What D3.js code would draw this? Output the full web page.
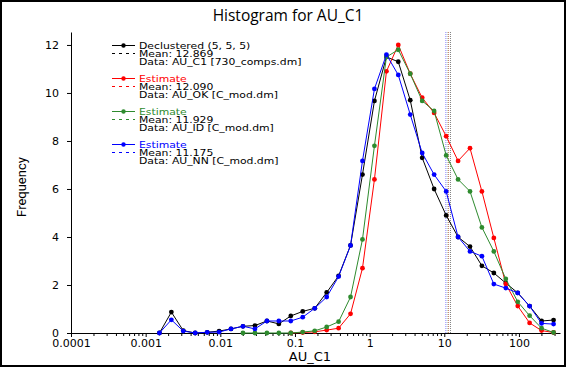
<!DOCTYPE html>
<html>
<head>
<meta charset="utf-8">
<script src="https://cdn.jsdelivr.net/npm/d3@7"></script>
<style>
  body { margin: 0; background: #fff; }
  svg { display: block; }
</style>
</head>
<body>
<script>
const width = 566;
const height = 367;

// bin centres (AU_C1, log bins)
const bins = [0.00153, 0.00221, 0.00319, 0.00461, 0.00667, 0.00964, 0.0139, 0.0201, 0.0291, 0.0421,
  0.0608, 0.0879, 0.127, 0.184, 0.266, 0.384, 0.555, 0.802, 1.16, 1.68,
  2.42, 3.50, 5.06, 7.31, 10.6, 15.3, 22.1, 31.9, 46.1, 66.7,
  96.4, 139, 201, 291];

// frequencies per bin (null = no point)
const declustered = [0, 0.87, 0.1, 0, 0.03, 0.08, 0.17, 0.28, 0.31, 0.5,
  0.38, 0.71, 0.9, 1.03, 1.69, 2.38, 3.65, 6.6, 9.67, 11.5,
  11.3, 9.7, 7.3, 6.0, 4.9, 4.0, 3.6, 2.8, 2.5, 2.08,
  1.67, 1.12, 0.5, 0.54];
const auOK = [null, null, null, null, null, null, null, null, null, null,
  null, 0, 0.02, 0.05, 0.12, 0.2, 0.8, 2.7, 6.4, 10.9,
  12.0, 10.8, 9.8, 9.17, 8.2, 7.17, 7.7, 5.9, 3.96, 2.04,
  1.12, 0.42, 0.1, 0.02];
const auID = [null, null, null, null, null, null, null, 0, 0, 0,
  0, 0, 0.04, 0.09, 0.25, 0.47, 1.5, 3.9, 7.8, 11.5,
  11.8, 10.8, 9.67, 9.25, 7.4, 6.4, 5.9, 4.4, 3.4, 2.25,
  1.3, 0.72, 0.2, 0.02];
const auNN = [0, 0.55, 0.08, 0, 0.03, 0.04, 0.17, 0.28, 0.17, 0.5,
  0.5, 0.5, 0.66, 1.03, 1.5, 2.35, 3.65, 7.17, 10.17, 11.6,
  10.75, 9.1, 7.5, 6.6, 5.9, 4.0, 3.4, 3.2, 2.04, 1.87,
  1.67, 1.12, 0.4, 0.37];

// means
const means = [12.869, 12.090, 11.929, 11.175];

// legend texts
const legendNames = ['Declustered (5, 5, 5)', 'Estimate', 'Estimate', 'Estimate'];
const legendData = ['AU_C1 [730_comps.dm]', 'AU_OK [C_mod.dm]', 'AU_ID [C_mod.dm]', 'AU_NN [C_mod.dm]'];
const colors = ['#000000', '#ff0000', '#2e8b2e', '#0000ff'];

// ticks
const xTicks = [0.0001, 0.001, 0.01, 0.1, 1, 10, 100];
const yTicks = [0, 2, 4, 6, 8, 10, 12];

const series = [declustered, auOK, auID, auNN];

var svg = d3.select('body')
  .append('svg')
  .attr('width', width)
  .attr('height', height)
  .style('font-family', 'DejaVu Sans, Verdana, sans-serif');

svg.append('rect')
  .attr('x', 1).attr('y', 1)
  .attr('width', width - 2).attr('height', height - 2)
  .attr('fill', '#fff')
  .attr('stroke', '#000')
  .attr('stroke-width', 2);

// scales
var x = d3.scaleLog()
  .domain([0.0001, Math.pow(10, 2.55)])
  .range([71, 560]);
var y = d3.scaleLinear()
  .domain([0, 12.54])
  .range([333, 32]);

// title
svg.append('text')
  .attr('x', 288)
  .attr('y', 21)
  .style('font-size', '15.5px')
  .style('font-family', 'Open Sans, sans-serif')
  .style('text-anchor', 'middle')
  .text('Histogram for AU_C1');

// mean lines
svg.append('g')
  .selectAll('line')
  .data(means)
  .join('line')
  .attr('x1', d => x(d) - 2).attr('x2', d => x(d) - 2)
  .attr('y1', y.range()[1]).attr('y2', y(0))
  .attr('stroke', (d, i) => colors[i])
  .attr('stroke-opacity', 0.5)
  .attr('stroke-dasharray', '1,1');

// x axis, major + minor ticks
var minor = [];
for (var e = -4; e <= 2; e++) {
  for (var m = 2; m <= 9; m++) {
    var v = m * Math.pow(10, e);
    if (v <= x.domain()[1]) minor.push(v);
  }
}
svg.append('g')
  .attr('transform', 'translate(0,' + y(0) + ')')
  .call(d3.axisBottom(x).tickValues(minor).tickSize(3).tickFormat(''))
  .call(g => g.select('.domain').remove());

var xAxis = svg.append('g')
  .attr('transform', 'translate(0,' + y(0) + ')')
  .call(d3.axisBottom(x).tickValues(xTicks).tickSize(4).tickSizeOuter(0)
    .tickFormat(d => d3.format('~g')(d).replace(/^1e-4$/, '0.0001')));
xAxis.selectAll('text')
  .style('font-size', '11px')
  .style('font-family', 'DejaVu Sans, sans-serif')
  .attr('y', 6)
  .attr('dy', '0.71em');

// y axis
var yAxis = svg.append('g')
  .attr('transform', 'translate(71,0)')
  .call(d3.axisLeft(y).tickValues(yTicks).tickSize(4).tickSizeOuter(0));
yAxis.selectAll('text')
  .style('font-size', '11px')
  .style('font-family', 'DejaVu Sans, sans-serif')
  .attr('x', -12)
  .attr('dy', '0.28em');

// axis titles
svg.append('text')
  .attr('x', 310)
  .attr('y', 361)
  .style('font-size', '13px')
  .style('font-family', 'DejaVu Sans, sans-serif')
  .style('text-anchor', 'middle')
  .text('AU_C1');

svg.append('text')
  .attr('transform', 'translate(26,187) rotate(-90)')
  .style('font-size', '13px')
  .style('font-family', 'Liberation Sans Narrow, Roboto, sans-serif')
  .style('text-anchor', 'middle')
  .text('Frequency');

// the lines and points
var line = d3.line()
  .defined(d => d[1] != null)
  .x(d => x(d[0]))
  .y(d => y(d[1]));

series.forEach(function (s, i) {
  var pts = bins.map((b, j) => [b, s[j]]);
  svg.append('path')
    .datum(pts)
    .attr('fill', 'none')
    .attr('stroke', colors[i])
    .attr('stroke-width', 1)
    .attr('d', line);
  svg.append('g')
    .selectAll('circle')
    .data(pts.filter(d => d[1] != null))
    .join('circle')
    .attr('cx', d => x(d[0]))
    .attr('cy', d => y(d[1]))
    .attr('r', 2.4)
    .attr('fill', colors[i]);
});

// legend (text drawn a little wide, as in the original)
var legend = svg.append('g')
  .style('font-size', '9.5px')
  .style('font-family', 'DejaVu Sans, Verdana, sans-serif');
legendNames.forEach(function (name, i) {
  var top = 49 + i * 33;
  legend.append('line')
    .attr('x1', 112).attr('x2', 135)
    .attr('y1', top - 3.5).attr('y2', top - 3.5)
    .attr('stroke', colors[i]);
  legend.append('circle')
    .attr('cx', 123.5).attr('cy', top - 3.5).attr('r', 2.2)
    .attr('fill', colors[i]);
  legend.append('line')
    .attr('x1', 112).attr('x2', 135)
    .attr('y1', top + 4.5).attr('y2', top + 4.5)
    .attr('stroke', colors[i])
    .attr('stroke-dasharray', '3,4');
  var rows = [name, 'Mean: ' + d3.format('.3f')(means[i]), 'Data: ' + legendData[i]];
  rows.forEach(function (t, k) {
    legend.append('text')
      .attr('transform', 'translate(139,' + (top + k * 8) + ') scale(1.14,1)')
      .attr('fill', (k == 0 && i > 0) ? colors[i] : '#000')
      .text(t);
  });
});
</script>
</body>
</html>
